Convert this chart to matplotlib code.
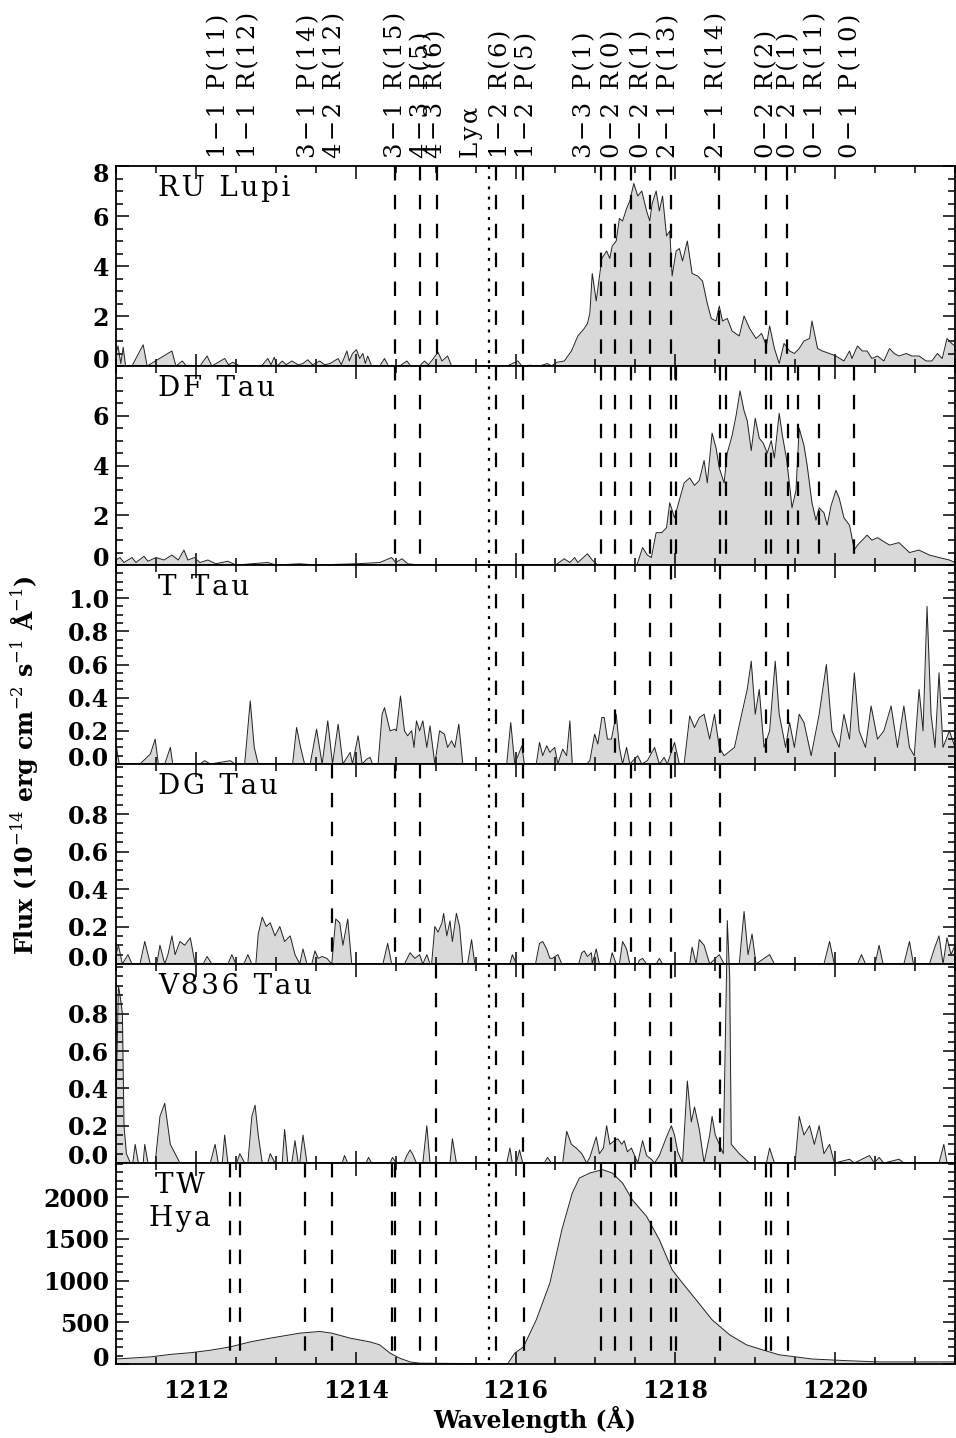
import numpy as np
import matplotlib
matplotlib.use('Agg')
import matplotlib.pyplot as plt
from matplotlib.ticker import MultipleLocator
from matplotlib.transforms import blended_transform_factory, ScaledTranslation

plt.rcParams['font.family'] = ['DejaVu Serif']
plt.rcParams['mathtext.fontset'] = 'dejavuserif'

# ---- spectra (wavelength in A, flux) ----
ru_wl = [1211.00, 1211.025, 1211.06, 1211.09, 1211.12, 1211.20, 1211.34, 1211.39, 1211.70, 1211.75,
         1211.83, 1211.88, 1212.05, 1212.14, 1212.20, 1212.36, 1212.41, 1212.46, 1212.55, 1212.82,
         1212.90, 1212.94, 1212.98, 1213.02, 1213.08, 1213.13, 1213.20, 1213.28, 1213.34, 1213.40,
         1213.46, 1213.55, 1213.61, 1213.68, 1213.78, 1213.82, 1213.89, 1213.92, 1213.96, 1214.01,
         1214.05, 1214.09, 1214.12, 1214.15, 1214.20, 1214.30, 1214.36, 1214.41, 1214.55, 1214.64,
         1214.69, 1214.80, 1214.86, 1214.91, 1214.96, 1215.03, 1215.08, 1215.15, 1215.20, 1215.90,
         1215.96, 1216.03, 1216.08, 1216.18, 1216.30, 1216.40, 1216.45, 1216.52, 1216.61, 1216.70,
         1216.78, 1216.86, 1216.90, 1216.93, 1216.96, 1217.01, 1217.08, 1217.14, 1217.18, 1217.21,
         1217.26, 1217.30, 1217.34, 1217.39, 1217.43, 1217.48, 1217.53, 1217.58, 1217.64, 1217.68,
         1217.71, 1217.76, 1217.80, 1217.84, 1217.89, 1217.93, 1217.96, 1218.01, 1218.05, 1218.09,
         1218.15, 1218.21, 1218.28, 1218.34, 1218.40, 1218.45, 1218.51, 1218.55, 1218.59, 1218.65,
         1218.71, 1218.80, 1218.86, 1218.93, 1219.01, 1219.08, 1219.14, 1219.18, 1219.24, 1219.30,
         1219.36, 1219.43, 1219.49, 1219.55, 1219.61, 1219.68, 1219.71, 1219.78, 1219.84, 1219.93,
         1220.01, 1220.11, 1220.18, 1220.21, 1220.28, 1220.34, 1220.40, 1220.46, 1220.53, 1220.61,
         1220.68, 1220.74, 1220.80, 1220.89, 1220.96, 1221.05, 1221.14, 1221.21, 1221.28, 1221.34,
         1221.40, 1221.46, 1221.50]
ru_fx = [0.5, 0.8, 0.1, 0.75, 0.0, 0.0, 0.85, 0.0, 0.6, 0.0,
         0.2, 0.0, 0.0, 0.4, 0.0, 0.3, 0.05, 0.15, 0.0, 0.0,
         0.3, 0.05, 0.35, 0.0, 0.2, 0.05, 0.2, 0.05, 0.1, 0.25,
         0.05, 0.2, 0.05, 0.1, 0.3, 0.05, 0.6, 0.2, 0.5, 0.65,
         0.3, 0.5, 0.1, 0.4, 0.0, 0.0, 0.3, 0.0, 0.0, 0.2,
         0.0, 0.0, 0.2, 0.05, 0.25, 0.55, 0.2, 0.4, 0.0, 0.0,
         0.1, 0.2, 0.0, 0.03, 0.0, 0.1, 0.0, 0.15, 0.2, 0.6,
         1.2, 1.5, 1.7, 2.1, 3.7, 2.6, 4.3, 4.6, 4.3, 4.8,
         5.0, 5.9, 5.8, 6.3, 6.6, 7.3, 6.8, 7.0, 6.2, 5.8,
         6.5, 7.0, 6.2, 6.8, 5.2, 5.4, 3.6, 4.6, 4.7, 4.2,
         5.0, 3.7, 3.6, 3.4, 2.5, 1.9, 1.8, 2.4, 1.8, 1.9,
         1.4, 1.2, 2.0, 1.5, 1.1, 1.3, 0.8, 1.6, 0.7, 0.1,
         0.9, 0.6, 0.5, 0.7, 1.0, 1.1, 1.8, 0.7, 0.6, 0.5,
         0.4, 0.2, 0.6, 0.3, 0.8, 0.6, 0.6, 0.3, 0.4, 0.2,
         0.7, 0.5, 0.4, 0.5, 0.4, 0.4, 0.2, 0.2, 0.5, 0.3,
         1.1, 0.9, 0.8]

df_wl = [1211.00, 1211.05, 1211.10, 1211.20, 1211.25, 1211.35, 1211.40, 1211.50, 1211.60, 1211.70,
         1211.78, 1211.85, 1211.90, 1211.98, 1212.05, 1212.15, 1212.25, 1212.40, 1212.50, 1212.70,
         1212.90, 1213.00, 1213.30, 1213.50, 1214.00, 1214.30, 1214.45, 1214.50, 1214.58, 1214.65,
         1214.80, 1216.50, 1216.61, 1216.68, 1216.74, 1216.78, 1216.90, 1216.96, 1217.03, 1217.52,
         1217.59, 1217.65, 1217.70, 1217.76, 1217.83, 1217.89, 1217.93, 1217.99, 1218.05, 1218.11,
         1218.18, 1218.24, 1218.30, 1218.36, 1218.40, 1218.46, 1218.51, 1218.55, 1218.61, 1218.65,
         1218.71, 1218.76, 1218.81, 1218.86, 1218.90, 1218.95, 1219.00, 1219.05, 1219.10, 1219.15,
         1219.20, 1219.24, 1219.30, 1219.34, 1219.39, 1219.43, 1219.46, 1219.51, 1219.55, 1219.61,
         1219.65, 1219.71, 1219.76, 1219.80, 1219.86, 1219.90, 1219.95, 1220.01, 1220.05, 1220.11,
         1220.18, 1220.24, 1220.28, 1220.34, 1220.40, 1220.46, 1220.53, 1220.68, 1220.80, 1220.93,
         1221.05, 1221.18, 1221.30, 1221.43, 1221.50]
df_fx = [0.2, 0.3, 0.1, 0.3, 0.1, 0.35, 0.15, 0.3, 0.2, 0.4,
         0.2, 0.6, 0.2, 0.3, 0.1, 0.2, 0.05, 0.15, 0.0, 0.05,
         0.1, 0.0, 0.05, 0.0, 0.05, 0.1, 0.3, 0.1, 0.25, 0.05,
         0.0, 0.0, 0.25, 0.1, 0.3, 0.1, 0.45, 0.2, 0.0, 0.0,
         0.7, 0.4, 0.3, 1.3, 1.3, 1.5, 2.5, 1.9, 2.6, 3.3,
         3.5, 3.2, 3.4, 4.2, 3.3, 5.3, 4.7, 3.9, 3.3, 4.5,
         5.2, 6.0, 7.0, 6.2, 5.8, 4.6, 5.9, 5.1, 4.9, 4.5,
         5.0, 4.3, 6.1, 5.2, 4.3, 3.2, 2.3, 3.0, 5.5, 4.8,
         4.0, 2.5, 1.8, 2.3, 2.1, 1.6, 2.4, 3.0, 2.7, 1.9,
         1.6, 0.6, 0.8, 1.0, 1.2, 1.0, 1.1, 0.8, 0.9, 0.5,
         0.6, 0.4, 0.3, 0.2, 0.1]

tt_wl = [1211.00, 1211.04, 1211.30, 1211.43, 1211.49, 1211.53, 1211.61, 1211.68, 1211.71, 1212.05,
         1212.11, 1212.18, 1212.43, 1212.49, 1212.61, 1212.68, 1212.73, 1212.78, 1213.21, 1213.26,
         1213.31, 1213.36, 1213.43, 1213.51, 1213.58, 1213.65, 1213.71, 1213.78, 1213.84, 1213.93,
         1213.96, 1214.03, 1214.08, 1214.14, 1214.18, 1214.21, 1214.28, 1214.33, 1214.36, 1214.43,
         1214.49, 1214.51, 1214.56, 1214.61, 1214.65, 1214.70, 1214.73, 1214.76, 1214.80, 1214.84,
         1214.89, 1214.93, 1214.99, 1215.05, 1215.11, 1215.15, 1215.20, 1215.24, 1215.29, 1215.34,
         1215.89, 1215.94, 1215.99, 1216.08, 1216.11, 1216.26, 1216.30, 1216.34, 1216.39, 1216.43,
         1216.49, 1216.53, 1216.59, 1216.64, 1216.68, 1216.71, 1216.89, 1216.93, 1216.99, 1217.03,
         1217.08, 1217.11, 1217.15, 1217.20, 1217.26, 1217.30, 1217.34, 1217.39, 1217.43, 1217.53,
         1217.58, 1217.65, 1217.74, 1217.80, 1217.86, 1217.90, 1217.99, 1218.05, 1218.11, 1218.18,
         1218.24, 1218.30, 1218.36, 1218.43, 1218.49, 1218.55, 1218.61, 1218.74, 1218.83, 1218.90,
         1218.95, 1219.00, 1219.05, 1219.11, 1219.18, 1219.25, 1219.30, 1219.38, 1219.43, 1219.49,
         1219.55, 1219.61, 1219.70, 1219.80, 1219.89, 1219.96, 1220.05, 1220.11, 1220.18, 1220.24,
         1220.30, 1220.38, 1220.45, 1220.53, 1220.61, 1220.70, 1220.78, 1220.86, 1220.93, 1220.99,
         1221.05, 1221.10, 1221.15, 1221.20, 1221.25, 1221.30, 1221.35, 1221.43, 1221.50]
tt_fx = [0.12, 0.0, 0.0, 0.06, 0.15, 0.0, 0.0, 0.1, 0.0, 0.0,
         0.02, 0.0, 0.02, 0.0, 0.0, 0.38, 0.1, 0.0, 0.0, 0.22,
         0.1, 0.0, 0.0, 0.21, 0.0, 0.26, 0.0, 0.24, 0.0, 0.07,
         0.0, 0.17, 0.0, 0.03, 0.04, 0.0, 0.0, 0.3, 0.34, 0.2,
         0.21, 0.2, 0.41, 0.2, 0.17, 0.2, 0.1, 0.26, 0.2, 0.26,
         0.1, 0.23, 0.0, 0.2, 0.18, 0.1, 0.14, 0.1, 0.24, 0.0,
         0.0, 0.25, 0.0, 0.11, 0.0, 0.0, 0.13, 0.05, 0.11, 0.07,
         0.1, 0.0, 0.09, 0.05, 0.26, 0.0, 0.0, 0.02, 0.18, 0.12,
         0.28, 0.28, 0.15, 0.15, 0.3, 0.1, 0.0, 0.1, 0.0, 0.05,
         0.0, 0.02, 0.1, 0.0, 0.04, 0.0, 0.13, 0.0, 0.0, 0.29,
         0.22, 0.28, 0.3, 0.15, 0.3, 0.1, 0.05, 0.1, 0.3, 0.45,
         0.62, 0.3, 0.45, 0.1, 0.2, 0.62, 0.3, 0.1, 0.25, 0.1,
         0.3, 0.25, 0.05, 0.3, 0.6, 0.2, 0.1, 0.3, 0.15, 0.55,
         0.2, 0.1, 0.35, 0.15, 0.2, 0.35, 0.1, 0.35, 0.1, 0.05,
         0.45, 0.2, 0.95, 0.3, 0.1, 0.55, 0.1, 0.2, 0.1]

dg_wl = [1211.00, 1211.03, 1211.08, 1211.15, 1211.20, 1211.30, 1211.36, 1211.43, 1211.51, 1211.55,
         1211.61, 1211.65, 1211.70, 1211.74, 1211.80, 1211.86, 1211.93, 1211.99, 1212.09, 1212.14,
         1212.20, 1212.40, 1212.45, 1212.50, 1212.60, 1212.65, 1212.70, 1212.75, 1212.78, 1212.83,
         1212.88, 1212.93, 1212.99, 1213.05, 1213.11, 1213.18, 1213.24, 1213.30, 1213.34, 1213.39,
         1213.45, 1213.49, 1213.53, 1213.58, 1213.64, 1213.70, 1213.75, 1213.80, 1213.84, 1213.90,
         1213.95, 1214.34, 1214.40, 1214.45, 1214.61, 1214.68, 1214.74, 1214.80, 1214.84, 1214.89,
         1214.93, 1214.95, 1214.99, 1215.03, 1215.08, 1215.10, 1215.14, 1215.18, 1215.21, 1215.26,
         1215.30, 1215.34, 1215.40, 1215.45, 1215.49, 1215.93, 1215.96, 1216.01, 1216.25, 1216.30,
         1216.34, 1216.39, 1216.43, 1216.46, 1216.53, 1216.58, 1216.79, 1216.83, 1216.86, 1216.90,
         1216.95, 1216.96, 1217.01, 1217.05, 1217.18, 1217.21, 1217.26, 1217.30, 1217.34, 1217.39,
         1217.43, 1217.53, 1217.55, 1217.59, 1217.64, 1217.76, 1217.80, 1217.84, 1218.18, 1218.21,
         1218.26, 1218.30, 1218.36, 1218.43, 1218.55, 1218.61, 1218.80, 1218.86, 1218.91, 1218.96,
         1219.01, 1219.18, 1219.24, 1219.86, 1219.93, 1219.99, 1220.28, 1220.33, 1220.38, 1220.50,
         1220.55, 1220.60, 1220.86, 1220.93, 1220.98, 1221.18, 1221.24, 1221.30, 1221.35, 1221.40,
         1221.45, 1221.50]
dg_fx = [0.05, 0.1, 0.0, 0.05, 0.0, 0.0, 0.12, 0.0, 0.0, 0.1,
         0.0, 0.05, 0.15, 0.05, 0.12, 0.1, 0.14, 0.0, 0.0, 0.04,
         0.0, 0.0, 0.05, 0.0, 0.0, 0.05, 0.0, 0.0, 0.16, 0.25,
         0.2, 0.22, 0.15, 0.2, 0.12, 0.15, 0.05, 0.0, 0.08, 0.0,
         0.0, 0.07, 0.03, 0.04, 0.03, 0.0, 0.24, 0.22, 0.1, 0.24,
         0.0, 0.0, 0.11, 0.0, 0.0, 0.06, 0.03, 0.05, 0.0, 0.05,
         0.0, 0.0, 0.2, 0.17, 0.22, 0.27, 0.15, 0.23, 0.12, 0.27,
         0.2, 0.0, 0.0, 0.13, 0.0, 0.0, 0.05, 0.0, 0.0, 0.11,
         0.12, 0.08, 0.03, 0.03, 0.05, 0.0, 0.0, 0.06, 0.07, 0.04,
         0.06, 0.0, 0.08, 0.0, 0.0, 0.06, 0.0, 0.0, 0.12, 0.08,
         0.0, 0.0, 0.02, 0.03, 0.0, 0.0, 0.03, 0.0, 0.0, 0.09,
         0.0, 0.13, 0.1, 0.0, 0.05, 0.0, 0.0, 0.28, 0.05, 0.16,
         0.0, 0.05, 0.0, 0.0, 0.12, 0.0, 0.0, 0.05, 0.0, 0.0,
         0.1, 0.0, 0.0, 0.12, 0.0, 0.0, 0.08, 0.15, 0.0, 0.14,
         0.05, 0.1]

v8_wl = [1211.00, 1211.03, 1211.05, 1211.08, 1211.10, 1211.13, 1211.18, 1211.21, 1211.24, 1211.28,
         1211.34, 1211.36, 1211.40, 1211.49, 1211.55, 1211.61, 1211.68, 1211.74, 1211.80, 1212.18,
         1212.24, 1212.28, 1212.33, 1212.36, 1212.40, 1212.51, 1212.55, 1212.61, 1212.65, 1212.70,
         1212.74, 1212.78, 1212.83, 1212.90, 1212.93, 1212.99, 1213.08, 1213.11, 1213.15, 1213.20,
         1213.24, 1213.28, 1213.30, 1213.34, 1213.39, 1213.83, 1213.86, 1213.90, 1214.13, 1214.16,
         1214.20, 1214.43, 1214.46, 1214.51, 1214.60, 1214.64, 1214.68, 1214.71, 1214.76, 1214.84,
         1214.89, 1214.93, 1215.18, 1215.21, 1215.26, 1215.89, 1215.93, 1215.96, 1216.01, 1216.05,
         1216.09, 1216.36, 1216.40, 1216.45, 1216.59, 1216.64, 1216.70, 1216.76, 1216.83, 1216.89,
         1216.93, 1217.01, 1217.05, 1217.10, 1217.14, 1217.18, 1217.24, 1217.28, 1217.33, 1217.36,
         1217.40, 1217.45, 1217.49, 1217.53, 1217.59, 1217.64, 1217.70, 1217.74, 1217.80, 1217.89,
         1217.95, 1217.99, 1218.03, 1218.09, 1218.15, 1218.20, 1218.24, 1218.30, 1218.36, 1218.43,
         1218.46, 1218.50, 1218.55, 1218.60, 1218.64, 1218.65, 1218.68, 1218.70, 1218.80, 1218.93,
         1219.14, 1219.18, 1219.24, 1219.50, 1219.55, 1219.61, 1219.68, 1219.74, 1219.80, 1219.86,
         1219.93, 1219.99, 1220.18, 1220.24, 1220.43, 1220.49, 1220.55, 1220.61, 1220.80, 1220.86,
         1221.30, 1221.36, 1221.40, 1221.50]
v8_fx = [0.3, 0.95, 0.9, 0.8, 0.2, 0.05, 0.0, 0.0, 0.1, 0.0,
         0.0, 0.1, 0.0, 0.0, 0.25, 0.32, 0.1, 0.05, 0.0, 0.0,
         0.1, 0.0, 0.0, 0.15, 0.0, 0.0, 0.05, 0.0, 0.0, 0.25,
         0.31, 0.15, 0.0, 0.0, 0.05, 0.0, 0.0, 0.18, 0.0, 0.0,
         0.12, 0.0, 0.0, 0.15, 0.0, 0.0, 0.04, 0.0, 0.0, 0.03,
         0.0, 0.0, 0.03, 0.0, 0.0, 0.04, 0.07, 0.05, 0.0, 0.0,
         0.2, 0.0, 0.0, 0.13, 0.0, 0.0, 0.08, 0.0, 0.0, 0.07,
         0.0, 0.0, 0.03, 0.0, 0.0, 0.17, 0.1, 0.08, 0.05, 0.0,
         0.03, 0.14, 0.05, 0.08, 0.2, 0.1, 0.12, 0.13, 0.1, 0.12,
         0.06, 0.08, 0.04, 0.0, 0.12, 0.04, 0.02, 0.0, 0.04, 0.14,
         0.2, 0.15, 0.06, 0.0, 0.44, 0.22, 0.3, 0.18, 0.0, 0.15,
         0.25, 0.15, 0.1, 0.05, 1.0, 1.3, 1.0, 0.1, 0.05, 0.0,
         0.0, 0.08, 0.0, 0.0, 0.25, 0.15, 0.2, 0.1, 0.2, 0.05,
         0.1, 0.0, 0.02, 0.0, 0.04, 0.0, 0.03, 0.0, 0.02, 0.0,
         0.0, 0.1, 0.0, 0.0]

tw_wl = [1211.00, 1211.43, 1211.68, 1211.93, 1212.18, 1212.43, 1212.68, 1212.93, 1213.18, 1213.30,
         1213.55, 1213.70, 1213.93, 1214.18, 1214.30, 1214.43, 1214.55, 1214.68, 1214.80, 1215.50,
         1215.90, 1215.99, 1216.10, 1216.26, 1216.43, 1216.58, 1216.71, 1216.80, 1216.93, 1217.09,
         1217.21, 1217.34, 1217.46, 1217.64, 1217.80, 1217.96, 1218.09, 1218.26, 1218.46, 1218.68,
         1218.89, 1219.09, 1219.30, 1219.51, 1219.71, 1220.14, 1220.55, 1221.39, 1221.50]
tw_fx = [60, 85, 115, 135, 165, 205, 265, 310, 350, 370,
         390, 370, 310, 265, 230, 130, 70, 25, 10, 5,
         0, 130, 205, 530, 970, 1610, 2050, 2230, 2290, 2330,
         2290, 2170, 1970, 1770, 1490, 1130, 970, 770, 530, 350,
         230, 170, 110, 85, 60, 40, 25, 25, 25]

# ---- H2 line positions marked in each panel ----
ru_lines = [1214.49, 1214.80, 1215.02, 1215.75, 1216.09, 1217.07, 1217.24, 1217.45, 1217.68,
            1217.95, 1218.55, 1219.14, 1219.40]
df_lines = [1214.49, 1214.80, 1215.75, 1216.09, 1217.07, 1217.24, 1217.45, 1217.68, 1217.95,
            1218.01, 1218.56, 1218.63, 1219.14, 1219.20, 1219.41, 1219.53, 1219.80, 1220.24]
tt_lines = [1215.75, 1216.09, 1217.24, 1217.68, 1217.95, 1218.56, 1219.14, 1219.41]
dg_lines = [1213.70, 1214.49, 1214.80, 1215.75, 1216.09, 1217.24, 1217.45, 1217.68, 1217.95,
            1218.56]
v8_lines = [1215.01, 1215.75, 1216.09, 1217.24, 1217.68, 1217.95, 1218.56]
tw_lines = [1212.43, 1212.55, 1213.36, 1213.70, 1214.45, 1214.49, 1214.80, 1215.01, 1215.75,
            1216.10, 1217.07, 1217.24, 1217.45, 1217.69, 1217.95, 1218.01, 1218.56, 1219.14,
            1219.20, 1219.41]
lya = 1215.67

top_labels = ['1\u22121 P(11)', '1\u22121 R(12)', '3\u22121 P(14)', '4\u22122 R(12)',
              '3\u22121 R(15)', '4\u22123 P(5)', '4\u22123 R(6)', 'Ly\u03b1', '1\u22122 R(6)',
              '1\u22122 P(5)', '3\u22123 P(1)', '0\u22122 R(0)', '0\u22122 R(1)', '2\u22121 P(13)',
              '2\u22121 R(14)', '0\u22122 R(2)', '0\u22122 P(1)', '0\u22121 R(11)', '0\u22121 P(10)']
top_label_wl = [1212.28, 1212.66, 1213.41, 1213.74, 1214.50, 1214.82, 1215.00, 1215.45,
                1215.82, 1216.14, 1216.86, 1217.21, 1217.58, 1217.92, 1218.52, 1219.14,
                1219.42, 1219.76, 1220.20]

panels = [
    ('RU Lupi', ru_wl, ru_fx, ru_lines, (0, 8), [0, 2, 4, 6, 8], 0.5, '%d'),
    ('DF Tau', df_wl, df_fx, df_lines, (0, 8), [0, 2, 4, 6], 0.5, '%d'),
    ('T Tau', tt_wl, tt_fx, tt_lines, (0, 1.2), [0, 0.2, 0.4, 0.6, 0.8, 1.0], 0.05, '%.1f'),
    ('DG Tau', dg_wl, dg_fx, dg_lines, (0, 1.067), [0, 0.2, 0.4, 0.6, 0.8], 0.05, '%.1f'),
    ('V836 Tau', v8_wl, v8_fx, v8_lines, (0, 1.067), [0, 0.2, 0.4, 0.6, 0.8], 0.05, '%.1f'),
    ('TW\nHya', tw_wl, tw_fx, tw_lines, (0, 2410), [0, 500, 1000, 1500, 2000], 100, '%d'),
]


def spaced(s, gap):
    # widen the letter spacing a little, the original lettering is very loose
    return '\n'.join(gap.join(part) for part in s.split('\n'))


W, H = 956, 1438
fig = plt.figure(figsize=(W / 100, H / 100), dpi=100)
edges = [166, 366, 565, 764, 964, 1163, 1364]

axes = []
for i, (name, wl, fx, lines, ylim, yt, ymin_step, fmt) in enumerate(panels):
    ax = fig.add_axes([116 / W, 1 - edges[i + 1] / H, 839 / W, (edges[i + 1] - edges[i]) / H])
    axes.append(ax)
    clip = name != 'V836 Tau'
    ax.fill_between(wl, fx, 0, color='#d9d9d9', lw=0, zorder=1, clip_on=clip)
    ax.plot(wl, fx, color='#222222', lw=0.7, zorder=2, clip_on=clip)
    for w in lines:
        ax.axvline(w, ymin=1, ymax=0, color='black', lw=1.6, ls=(0, (6.5, 6.5)), zorder=3)
    ax.axvline(lya, ymin=1, ymax=0, color='black', lw=1.6, ls=(0, (1.3, 3.3)), zorder=3)

    ax.set_xlim(1211.0, 1221.5)
    ax.set_ylim(*ylim)
    ax.set_xticks([1212, 1214, 1216, 1218, 1220])
    ax.xaxis.set_minor_locator(MultipleLocator(0.5))
    ax.set_yticks(yt)
    ax.set_yticklabels([fmt % v for v in yt])
    ax.yaxis.set_minor_locator(MultipleLocator(ymin_step))
    ax.tick_params(which='both', direction='in', top=True, right=True, width=1.1)
    ax.tick_params(which='major', length=9, labelsize=17)
    ax.tick_params(axis='y', which='major', pad=5)
    ax.tick_params(axis='x', which='major', pad=11)
    ax.tick_params(which='minor', length=5)
    for sp in ax.spines.values():
        sp.set_linewidth(1.3)
    if i < len(panels) - 1:
        ax.tick_params(labelbottom=False)
    for lab in ax.get_xticklabels() + ax.get_yticklabels():
        lab.set_fontweight('bold')
    # lift the "0" label off the panel floor, push the top "8" down
    ticks = ax.yaxis.get_major_ticks()
    lab0 = ticks[0].label1
    lab0.set_transform(lab0.get_transform() + ScaledTranslation(0, 0.08, fig.dpi_scale_trans))
    if name == 'RU Lupi':
        labt = ticks[-1].label1
        labt.set_transform(labt.get_transform() + ScaledTranslation(0, -0.07, fig.dpi_scale_trans))

    if name.startswith('TW'):
        ax.text(0.076, 0.955, spaced(name, '\u200a'), transform=ax.transAxes, ha='center',
                va='top', fontsize=20, linespacing=1.3)
    else:
        ax.text(0.05, 0.955, spaced(name, '\u200a'), transform=ax.transAxes, ha='left',
                va='top', fontsize=20)

# line identifications above the top panel
trans = blended_transform_factory(axes[0].transData, fig.transFigure)
for txt, w in zip(top_labels, top_label_wl):
    fig.text(w, 1 - 158 / H, spaced(txt, '\u200a'), transform=trans, rotation=90,
             ha='center', va='bottom', fontsize=17.5)

fig.text(24 / W, 1 - 765 / H, 'Flux (10$^{-14}$ erg cm$^{-2}$ s$^{-1}$ \u00c5$^{-1}$)',
         rotation=90, ha='center', va='center', fontsize=17, fontweight='bold')
fig.text(535 / W, 1 - 1419 / H, 'Wavelength (\u00c5)', ha='center', va='center',
         fontsize=17, fontweight='bold')

fig.savefig('out.png', dpi=100)
